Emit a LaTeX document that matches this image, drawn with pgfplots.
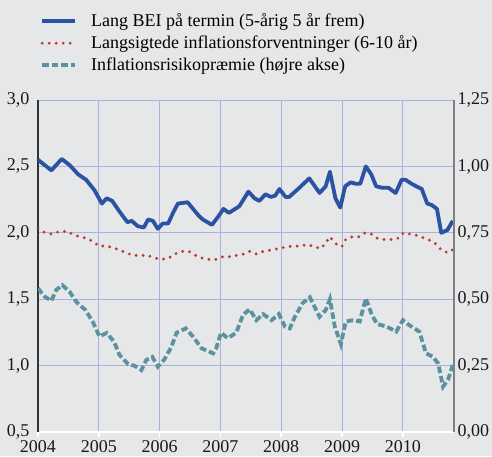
\documentclass[border=0pt]{standalone}
\usepackage{pgfplots}
\pgfplotsset{compat=1.18}
\usepackage{fontspec}
\setmainfont{Liberation Serif}
\definecolor{bg}{RGB}{230,231,233}
\definecolor{bluel}{RGB}{43,83,163}
\definecolor{redd}{RGB}{190,58,46}
\definecolor{teald}{RGB}{90,146,160}
\definecolor{gridc}{RGB}{172,176,222}
\tikzset{
  bluestyle/.style={bluel, line width=3.8pt, line join=round},
  redstyle/.style={redd, line width=3.2pt, line cap=round, dash pattern=on 0pt off 7pt},
  tealstyle/.style={teald, line width=3.8pt, dash pattern=on 6.5pt off 3pt},
}
\pgfplotstableread{
t v
2004.00 2.55
2004.22 2.47
2004.39 2.556
2004.52 2.51
2004.66 2.44
2004.79 2.40
2004.93 2.32
2005.05 2.22
2005.13 2.26
2005.22 2.24
2005.34 2.16
2005.47 2.08
2005.54 2.09
2005.64 2.05
2005.74 2.04
2005.81 2.10
2005.89 2.09
2005.97 2.03
2006.05 2.07
2006.14 2.07
2006.22 2.15
2006.30 2.22
2006.46 2.23
2006.55 2.18
2006.64 2.13
2006.71 2.10
2006.86 2.06
2006.96 2.12
2007.05 2.18
2007.14 2.15
2007.31 2.20
2007.46 2.31
2007.56 2.26
2007.64 2.24
2007.74 2.29
2007.83 2.27
2007.90 2.28
2007.97 2.33
2008.07 2.27
2008.13 2.27
2008.30 2.34
2008.46 2.41
2008.63 2.30
2008.73 2.35
2008.80 2.46
2008.89 2.26
2008.97 2.19
2009.05 2.35
2009.14 2.38
2009.22 2.37
2009.30 2.37
2009.39 2.50
2009.48 2.44
2009.56 2.35
2009.65 2.34
2009.76 2.34
2009.88 2.30
2009.98 2.40
2010.04 2.40
2010.14 2.37
2010.22 2.35
2010.31 2.33
2010.40 2.22
2010.47 2.21
2010.56 2.18
2010.63 2.00
2010.73 2.02
2010.82 2.09
}\bei
\pgfplotstableread{
t v
2004.00 2.03
2004.12 2.00
2004.23 1.99
2004.35 2.01
2004.47 2.01
2004.57 1.99
2004.68 1.97
2004.80 1.96
2004.92 1.93
2005.00 1.90
2005.11 1.90
2005.23 1.89
2005.34 1.87
2005.45 1.85
2005.56 1.83
2005.68 1.83
2005.81 1.83
2005.92 1.81
2006.03 1.80
2006.15 1.81
2006.25 1.84
2006.36 1.86
2006.48 1.86
2006.59 1.83
2006.70 1.81
2006.81 1.80
2006.93 1.80
2007.04 1.82
2007.15 1.82
2007.27 1.83
2007.38 1.84
2007.48 1.86
2007.59 1.84
2007.70 1.86
2007.82 1.87
2007.94 1.88
2008.05 1.89
2008.17 1.90
2008.29 1.90
2008.41 1.91
2008.53 1.90
2008.64 1.88
2008.73 1.92
2008.79 1.97
2008.86 1.94
2008.93 1.90
2009.00 1.90
2009.06 1.95
2009.17 1.97
2009.28 1.97
2009.38 2.00
2009.48 1.99
2009.57 1.96
2009.69 1.95
2009.81 1.95
2009.93 1.96
2010.01 2.00
2010.12 1.99
2010.24 1.98
2010.35 1.96
2010.46 1.94
2010.56 1.91
2010.63 1.87
2010.74 1.85
2010.84 1.88
}\forv
\pgfplotstableread{
t v
2004.00 0.541
2004.11 0.510
2004.22 0.494
2004.30 0.535
2004.40 0.553
2004.52 0.528
2004.63 0.490
2004.78 0.459
2004.90 0.415
2005.01 0.360
2005.13 0.373
2005.25 0.340
2005.34 0.290
2005.48 0.256
2005.59 0.249
2005.70 0.233
2005.78 0.271
2005.88 0.283
2005.97 0.246
2006.08 0.274
2006.19 0.319
2006.28 0.374
2006.43 0.390
2006.55 0.359
2006.69 0.315
2006.88 0.296
2006.93 0.315
2007.01 0.374
2007.12 0.353
2007.26 0.374
2007.37 0.441
2007.48 0.462
2007.59 0.421
2007.70 0.444
2007.84 0.421
2007.96 0.444
2008.06 0.397
2008.14 0.390
2008.22 0.432
2008.35 0.485
2008.47 0.507
2008.63 0.434
2008.73 0.459
2008.80 0.500
2008.88 0.397
2008.98 0.331
2009.06 0.416
2009.18 0.421
2009.29 0.416
2009.39 0.503
2009.48 0.447
2009.57 0.407
2009.73 0.397
2009.89 0.378
2010.00 0.421
2010.10 0.403
2010.27 0.378
2010.38 0.296
2010.49 0.284
2010.58 0.258
2010.66 0.171
2010.74 0.196
2010.82 0.252
}\risk
\begin{document}
\begin{tikzpicture}[x=1pt,y=1pt]
\path[fill=bg, use as bounding box] (0,0) rectangle (492,456);
\begin{axis}[
  at={(38pt,24pt)}, anchor=south west,
  scale only axis, width=416pt, height=332pt,
  xmin=2004, xmax=2010.84, ymin=0.5, ymax=3.0,
  axis x line*=bottom, axis y line*=left,
  x axis line style={white, line width=2pt, -},
  y axis line style={black!80, line width=1.2pt, -},
  xtick={2004,...,2010}, ytick={0.5,1,...,3},
  grid=major, major grid style={gridc, line width=0.8pt},
  xtick style={white, line width=1.5pt},
  tick align=outside, major tick length=5pt,
  ytick style={draw=none},
  tick label style={font=\fontsize{18}{21}\selectfont, black!90},
  xticklabel style={/pgf/number format/1000 sep={}},
  yticklabel style={/pgf/number format/.cd, fixed, fixed zerofill, precision=1, use comma},
  /pgf/number format/assume math mode=true,
  legend style={at={(0.005,1.266)}, anchor=north west, draw=none, fill=none,
    font=\fontsize{18}{21}\selectfont, row sep=3.5pt, inner sep=0pt,
    /tikz/every odd column/.append style={column sep=12pt}},
  legend cell align=left,
  legend image code/.code={\draw[#1] (0pt,0pt) -- (33pt,0pt);},
]
\addlegendimage{bluestyle}
\addlegendentry{Lang BEI på termin (5-årig 5 år frem)}
\addlegendimage{redstyle}
\addlegendentry{Langsigtede inflationsforventninger (6-10 år)}
\addlegendimage{tealstyle}
\addlegendentry{Inflationsrisikopræmie (højre akse)}
\addplot[redstyle, forget plot] table[x=t, y=v] {\forv};
\addplot[bluestyle, forget plot] table[x=t, y=v] {\bei};
\end{axis}
\begin{axis}[
  at={(38pt,24pt)}, anchor=south west,
  scale only axis, width=416pt, height=332pt,
  xmin=2004, xmax=2010.84, ymin=0, ymax=1.25,
  axis x line=none, axis y line*=right,
  y axis line style={black!50, line width=1.8pt, -},
  ytick={0,0.25,...,1.25},
  ytick style={draw=none},
  tick label style={font=\fontsize{18}{21}\selectfont, black!90},
  yticklabel style={/pgf/number format/.cd, fixed, fixed zerofill, precision=2, use comma},
  /pgf/number format/assume math mode=true,
]
\addplot[tealstyle] table[x=t, y=v] {\risk};
\end{axis}
\end{tikzpicture}
\end{document}
